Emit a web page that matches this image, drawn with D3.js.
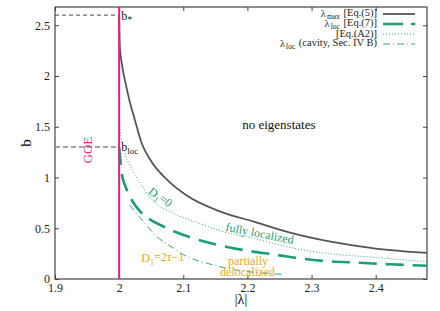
<!DOCTYPE html>
<html>
<head>
<meta charset="utf-8">
<script src="https://cdn.jsdelivr.net/npm/d3@7"></script>
<style>
  body { margin: 0; background: #fff; }
</style>
</head>
<body>
<svg width="440" height="311"></svg>
<script>
// Step 1, [|lambda|, b]
var lambdaMax = [[2.000, 2.60], [2.001, 2.30], [2.005, 2.09], [2.010, 1.93], [2.016, 1.76],
    [2.024, 1.58], [2.035, 1.34], [2.049, 1.17], [2.075, 0.976], [2.106, 0.82], [2.158, 0.664],
    [2.21, 0.565], [2.265, 0.46], [2.33, 0.368], [2.40, 0.30], [2.48, 0.258]];

var lambdaLoc = [[2.000, 1.30], [2.002, 1.17], [2.004, 1.04], [2.010, 0.91], [2.018, 0.796],
    [2.033, 0.664], [2.051, 0.575], [2.064, 0.533], [2.085, 0.47], [2.111, 0.41], [2.158, 0.33],
    [2.199, 0.28], [2.245, 0.238], [2.285, 0.200], [2.324, 0.175], [2.375, 0.160], [2.422, 0.145], [2.48, 0.13]];

var eqA2 = [[2.000, 1.74], [2.0008, 1.55], [2.003, 1.40], [2.0073, 1.272], [2.018, 1.107],
    [2.033, 0.944], [2.054, 0.762], [2.085, 0.648], [2.132, 0.532], [2.158, 0.475], [2.21, 0.40],
    [2.26, 0.32], [2.313, 0.26], [2.396, 0.214], [2.48, 0.171]];

var lambdaCavity = [[2.016, 0.73], [2.038, 0.565], [2.059, 0.417], [2.085, 0.303], [2.106, 0.22],
    [2.137, 0.155], [2.168, 0.106], [2.21, 0.066], [2.256, 0.046]];

var bStar = 2.6, bLoc = 1.30, lambdaGOE = 2.0;

var xTicks = [1.9, 2.0, 2.1, 2.2, 2.3, 2.4];
var yTicks = [0, 0.5, 1, 1.5, 2, 2.5];

var legendItems = [
    {main: "λ", sub: "max", rest: " [Eq.(5)]"},
    {main: "λ", sub: "loc", rest: " [Eq.(7)]"},
    {main: "", sub: "", rest: "[Eq.(A2)]"},
    {main: "λ", sub: "loc", rest: " (cavity, Sec. IV B)"}
];

// Step 2 - sizes and scales
var serif = "'Liberation Serif', 'Times New Roman', Times, 'DejaVu Serif', serif";

var svg = d3.select("svg").style("font-family", serif),
    margin = {top: 7, right: 13, bottom: 32, left: 55},
    width = +svg.attr("width") - margin.left - margin.right,
    height = +svg.attr("height") - margin.top - margin.bottom;

var green = "#1b9e77", pink = "#e6207f", gold = "#e9ab17", frame = "#444";

var xScale = d3.scaleLinear().domain([1.9, 2.48]).range([0, width]),
    yScale = d3.scaleLinear().domain([0, 2.68]).range([height, 0]);

var g = svg.append("g")
    .attr("transform", "translate(" + margin.left + "," + margin.top + ")");

g.append("clipPath").attr("id", "clip")
  .append("rect").attr("width", width).attr("height", height);

// Step 3 - axes, ticks inside on all four sides
var fmt = d3.format("~g");

g.append("g")
  .attr("transform", "translate(0," + height + ")")
  .call(d3.axisBottom(xScale).tickValues(xTicks).tickSize(-4).tickPadding(4).tickFormat(fmt));
g.append("g")
  .call(d3.axisTop(xScale).tickValues(xTicks).tickSize(-4).tickFormat(""));
g.append("g")
  .call(d3.axisLeft(yScale).tickValues(yTicks).tickSize(-4).tickPadding(5).tickFormat(fmt));
g.append("g")
  .attr("transform", "translate(" + width + ",0)")
  .call(d3.axisRight(yScale).tickValues(yTicks).tickSize(-4).tickFormat(""));

g.selectAll(".domain").remove();
g.selectAll(".tick line").attr("stroke", frame);
g.selectAll("g").attr("font-family", null);
g.selectAll(".tick text")
  .style("font-family", serif)
  .style("font-size", "12px")
  .attr("fill", "#222");

g.append("rect")
  .attr("width", width).attr("height", height)
  .attr("fill", "none").attr("stroke", frame).attr("stroke-width", 1.2);

// axis titles
svg.append("text")
  .attr("x", margin.left + width / 2)
  .attr("y", 304)
  .attr("text-anchor", "middle")
  .style("font-size", "14px")
  .text("|λ|");

svg.append("text")
  .attr("text-anchor", "middle")
  .attr("transform", "translate(31,143)rotate(-90)")
  .style("font-size", "15px")
  .text("b");

// Step 4 - reference lines
g.append("line")
  .attr("x1", 0).attr("x2", xScale(lambdaGOE))
  .attr("y1", yScale(bStar)).attr("y2", yScale(bStar))
  .attr("stroke", "#333").attr("stroke-width", 0.9).attr("stroke-dasharray", "4,3");

g.append("line")
  .attr("x1", 0).attr("x2", xScale(lambdaGOE))
  .attr("y1", yScale(bLoc)).attr("y2", yScale(bLoc))
  .attr("stroke", "#888").attr("stroke-width", 1.4).attr("stroke-dasharray", "5,3");

// Step 5 - curves
var line = d3.line()
    .x(function(d) { return xScale(d[0]); })
    .y(function(d) { return yScale(d[1]); })
    .curve(d3.curveMonotoneX);

var curves = g.append("g").attr("clip-path", "url(#clip)");

curves.append("path").datum(eqA2)
  .attr("d", line).attr("fill", "none")
  .attr("stroke", green).attr("stroke-width", 0.9).attr("stroke-dasharray", "1,2");

curves.append("path").datum(lambdaCavity)
  .attr("d", line).attr("fill", "none")
  .attr("stroke", green).attr("stroke-width", 0.9).attr("stroke-dasharray", "7,3,1,3");

curves.append("path").datum(lambdaLoc)
  .attr("d", line).attr("fill", "none")
  .attr("stroke", green).attr("stroke-width", 2.6).attr("stroke-dasharray", "18,9");

curves.append("path").datum(lambdaMax)
  .attr("d", line).attr("fill", "none")
  .attr("stroke", "#555").attr("stroke-width", 1.8);

// GOE line
g.append("line")
  .attr("x1", xScale(lambdaGOE)).attr("x2", xScale(lambdaGOE))
  .attr("y1", 0).attr("y2", height)
  .attr("stroke", pink).attr("stroke-width", 2);

// Step 6 - annotations
function subText(sel, main, sub, rest, subSize, gap) {
  sel.append("tspan").text(main);
  sel.append("tspan").attr("dx", gap || 0).attr("dy", "0.3em").style("font-size", subSize).text(sub);
  sel.append("tspan").attr("dx", gap || 0).attr("dy", "-0.3em").text(rest);
}

var bs = g.append("text").attr("x", xScale(lambdaGOE) + 2).attr("y", yScale(bStar) + 5)
  .style("font-size", "12px").attr("fill", "#222");
subText(bs, "b", "*", "", "10px");

var bl = g.append("text").attr("x", xScale(lambdaGOE) + 2).attr("y", yScale(bLoc) + 4)
  .style("font-size", "12px").attr("fill", "#222");
subText(bl, "b", "loc", "", "9px");

g.append("text")
  .attr("text-anchor", "middle")
  .attr("transform", "translate(" + (xScale(1.951) + 4) + "," + yScale(1.27) + ")rotate(-90)")
  .attr("fill", pink)
  .style("font-size", "13px")
  .text("GOE");

g.append("text")
  .attr("x", xScale(2.249)).attr("y", yScale(1.48))
  .attr("text-anchor", "middle")
  .style("font-size", "13px")
  .attr("fill", "#111")
  .text("no eigenstates");

var d0 = g.append("text")
  .attr("text-anchor", "middle")
  .attr("transform", "translate(" + xScale(2.06) + "," + yScale(0.77) + ")rotate(38)")
  .attr("fill", green).style("font-size", "12px");
subText(d0, "D", "1", "=0", "8px");

g.append("text")
  .attr("text-anchor", "middle")
  .attr("transform", "translate(" + xScale(2.218) + "," + yScale(0.41) + ")rotate(11)")
  .attr("fill", green).style("font-size", "12px")
  .text("fully localized");

var dt = g.append("text")
  .attr("text-anchor", "middle")
  .attr("x", xScale(2.068)).attr("y", yScale(0.165))
  .attr("fill", gold).style("font-size", "12px");
subText(dt, "D", "1", "=2τ−1", "8px");

g.append("text")
  .attr("text-anchor", "middle")
  .attr("x", xScale(2.201)).attr("y", yScale(0.14))
  .attr("fill", gold).style("font-size", "12px")
  .text("partially");

g.append("text")
  .attr("text-anchor", "middle")
  .attr("x", xScale(2.2)).attr("y", yScale(0.025))
  .attr("fill", gold).style("font-size", "12px")
  .text("delocalized");

// Step 7 - legend
var styles = [
  {stroke: "#555", w: 1.8, dash: null},
  {stroke: green, w: 2.6, dash: "20,8"},
  {stroke: green, w: 0.9, dash: "1,2"},
  {stroke: green, w: 0.9, dash: "7,3,1,3"}
];

legendItems.forEach(function(d, i) {
  var yy = 14 + i * 10;
  var t = svg.append("text")
    .attr("x", 377).attr("y", yy + 3)
    .attr("text-anchor", "end")
    .style("font-size", "10.5px")
    .attr("fill", "#222");
  if (d.main) subText(t, d.main, d.sub, d.rest, "7.5px", 1);
  else t.text(d.rest);
  svg.append("line")
    .attr("x1", 383).attr("x2", 415)
    .attr("y1", yy).attr("y2", yy)
    .attr("stroke", styles[i].stroke)
    .attr("stroke-width", styles[i].w)
    .attr("stroke-dasharray", styles[i].dash);
});
</script>
</body>
</html>
